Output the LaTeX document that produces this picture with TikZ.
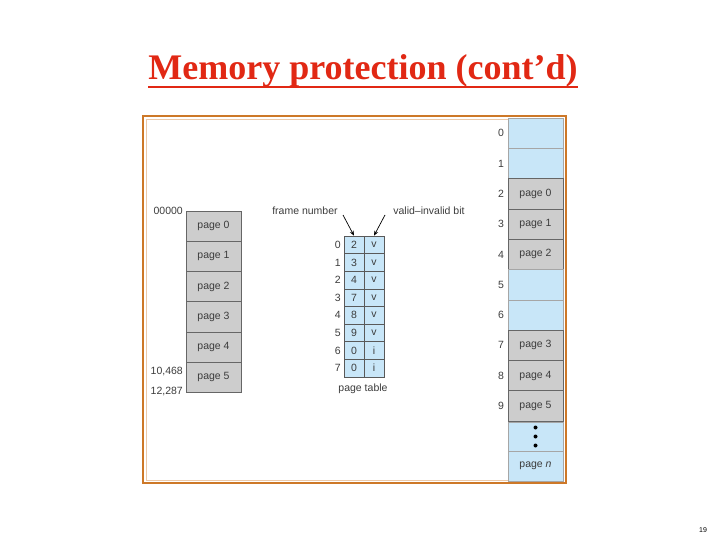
\documentclass[tikz,border=0pt]{standalone}
\usepackage{fontspec}
\setmainfont{Liberation Sans}
\newfontfamily\ttl{Liberation Serif}
\usetikzlibrary{arrows.meta}
\definecolor{pg}{RGB}{205,205,205}
\definecolor{lb}{RGB}{200,230,248}
\definecolor{fr}{RGB}{205,120,40}
\definecolor{tred}{RGB}{225,40,20}
\definecolor{tx}{RGB}{60,60,60}
\begin{document}
\begin{tikzpicture}[x=1pt,y=-1pt,
  lbl/.style={font=\fontsize{10.5}{12}\selectfont,text=tx,inner sep=1pt},
  gcell/.style={fill=pg,draw=gray!80!black,line width=0.6pt},
  bcell/.style={fill=lb,draw=gray!70,line width=0.4pt},
  tcell/.style={fill=lb,draw=gray!70!black,line width=0.6pt},
  arr/.style={-{Stealth[length=5pt,width=4pt]},line width=0.7pt}]
\useasboundingbox (0,0) rectangle (720,540);
\node[inner sep=0pt,text=tred,font=\ttl\bfseries\fontsize{36}{40}\selectfont] (title) at (363,71) {Memory protection (cont’d)};
\draw[tred,line width=2pt] (title.south west) ++(0,-1) -- ([yshift=1pt]title.south east);
\node[font=\fontsize{7}{8}\selectfont] (pn) at (703,530) {19};
\draw[fr,line width=2.5pt] (143,116) rectangle (566,483);
\draw[fr!40,line width=0.5pt] (146,119) rectangle (563,480);
% left logical memory
\foreach \i in {0,...,5}{
  \node[gcell,minimum width=55pt,minimum height=30.2pt,lbl,inner sep=0pt] (L\i) at (213.5,{226.1+30.2*\i}) {page \i};
}
\node[lbl,anchor=east] (a0) at (184,211) {00000};
\node[lbl,anchor=east] (a1) at (184,372) {10,468};
\node[lbl,anchor=east] (a2) at (184,392) {12,287};
% page table
\foreach \i/\f/\b in {0/2/v,1/3/v,2/4/v,3/7/v,4/8/v,5/9/v,6/0/i,7/0/i}{
  \node[tcell,minimum width=20pt,minimum height=17.6pt,lbl,inner sep=0pt] (F\i) at (354,{244.8+17.6*\i}) {\f};
  \node[tcell,minimum width=20pt,minimum height=17.6pt,lbl,inner sep=0pt] (B\i) at (374,{244.8+17.6*\i}) {\b};
  \node[lbl,anchor=east] (R\i) at (342,{244.8+17.6*\i}) {\i};
}
\node[lbl] (pt) at (363,389) {page table};
\node[lbl] (fn) at (305,211) {frame number};
\node[lbl] (vb) at (429,211) {valid–invalid bit};
\coordinate (fa) at (343,215);
\coordinate (va) at (385,215);
\draw[arr] (fa) -- (F0.north);
\draw[arr] (va) -- (B0.north);
% physical memory
\foreach \i/\t/\s in {0//bcell,1//bcell,2/page 0/gcell,3/page 1/gcell,4/page 2/gcell,5//bcell,6//bcell,7/page 3/gcell,8/page 4/gcell,9/page 5/gcell}{
  \node[\s,minimum width=55pt,minimum height=30.3pt,lbl,inner sep=0pt] (P\i) at (535.5,{133.2+30.3*\i}) {\t};
  \node[lbl] (N\i) at (501,{133.2+30.3*\i}) {\i};
}
\node[bcell,minimum width=55pt,minimum height=29.5pt] (Pd) at (535.5,436.5) {};
\foreach \d in {-9,0,9} \fill (535.5,436.5+\d) circle (2pt);
\node[bcell,minimum width=55pt,minimum height=29.5pt,lbl,inner sep=0pt] (Pn) at (535.5,466) {page \textit{n}};
\end{tikzpicture}
\end{document}
